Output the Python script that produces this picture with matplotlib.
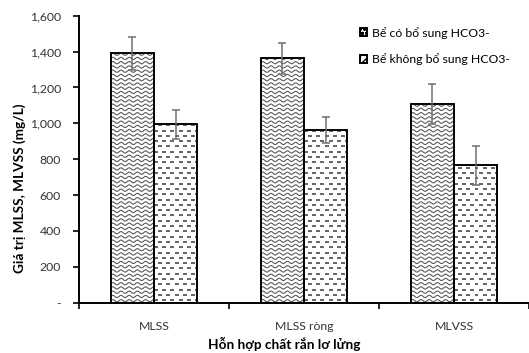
import numpy as np
import matplotlib
matplotlib.use("Agg")
import matplotlib.pyplot as plt
from matplotlib.collections import LineCollection
from matplotlib.patches import Patch
from matplotlib.ticker import FuncFormatter

plt.rcParams['font.family'] = ['Lato', 'DejaVu Sans']

categories = ["MLSS", "MLSS ròng", "MLVSS"]
series_names = ["Bể có bổ sung HCO3-", "Bể không bổ sung HCO3-"]
co_hco3 = [1390, 1362, 1108]
co_hco3_err = [90, 87, 113]
khong_hco3 = [994, 962, 766]
khong_hco3_err = [80, 72, 110]

W, H, DPI = 529, 353, 100
fig = plt.figure(figsize=(W / DPI, H / DPI), dpi=DPI)
ax = fig.add_axes([79 / W, 50.3 / H, 450 / W, 287 / H])

x = np.arange(len(categories))
bw = 0.288
ax.set_xlim(-0.5, 2.5)
ax.set_ylim(0, 1600)

# pixel -> data scale factors
px_x = 3.0 / 450
px_y = 1600 / 287.0


def wave_fill(bar):
    x0, w, h = bar.get_x(), bar.get_width(), bar.get_height()
    xs = np.linspace(x0, x0 + w, 200)
    segs = []
    ypx = 2.0
    while ypx * px_y < h + 5 * px_y:
        y = ypx * px_y + 1.1 * px_y * np.sin(2 * np.pi * (xs - x0) / (8.2 * px_x))
        segs.append(np.column_stack([xs, y]))
        ypx += 4.25
    lc = LineCollection(segs, colors="#5a5a5a", linewidths=0.8, zorder=2)
    ax.add_collection(lc)
    lc.set_clip_path(bar)


def dash_fill(bar):
    x0, w, h = bar.get_x(), bar.get_width(), bar.get_height()
    segs = []
    row = 0
    ypx = 2.5
    while ypx * px_y < h:
        off = 0 if row % 2 == 0 else 4.1
        xp = off - 8.2
        while xp * px_x < w:
            segs.append([(x0 + xp * px_x, ypx * px_y), (x0 + (xp + 4) * px_x, ypx * px_y)])
            xp += 8.2
        ypx += 5.3
        row += 1
    lc = LineCollection(segs, colors="#3a3a3a", linewidths=1.1, zorder=2)
    ax.add_collection(lc)
    lc.set_clip_path(bar)


bars1 = ax.bar(x - bw / 2, co_hco3, bw, color="white", edgecolor="black", linewidth=1.2, zorder=1)
bars2 = ax.bar(x + bw / 2, khong_hco3, bw, color="white", edgecolor="black", linewidth=1.2, zorder=1)
for b in bars1:
    wave_fill(b)
for b in bars2:
    dash_fill(b)
# bar outlines on top of the fill patterns
ax.bar(x - bw / 2, co_hco3, bw, fill=False, edgecolor="black", linewidth=1.2, zorder=3)
ax.bar(x + bw / 2, khong_hco3, bw, fill=False, edgecolor="black", linewidth=1.2, zorder=3)

ax.errorbar(x - bw / 2, co_hco3, yerr=co_hco3_err, fmt="none", ecolor="#707070",
            elinewidth=1.1, capsize=3.2, capthick=1.1, zorder=4)
ax.errorbar(x + bw / 2, khong_hco3, yerr=khong_hco3_err, fmt="none", ecolor="#707070",
            elinewidth=1.1, capsize=3.2, capthick=1.1, zorder=4)

ax.set_yticks(np.arange(0, 1601, 200))
ax.yaxis.set_major_formatter(FuncFormatter(lambda v, p: "-" if v == 0 else f"{int(v):,}"))
ax.set_xticks(x)
ax.set_xticklabels(categories)
ax.set_xticks([-0.5, 0.5, 1.5, 2.5], minor=True)
ax.tick_params(axis="x", which="major", length=0, pad=13, labelsize=8.8, colors="#333333")
ax.tick_params(axis="x", which="minor", length=4, width=1.2, direction="out")
ax.tick_params(axis="y", length=4, width=1.2, direction="out", labelsize=8.8, pad=9, colors="#333333")
ax.tick_params(axis="both", which="both", color="black")

for s in ["top", "right"]:
    ax.spines[s].set_visible(False)
for s in ["left", "bottom"]:
    ax.spines[s].set_linewidth(1.4)

ax.set_ylabel("Giá trị MLSS, MLVSS (mg/L)", fontsize=9.8, fontweight="bold", va="center")
ax.yaxis.set_label_coords(-0.131, 0.40)
ax.set_xlabel("Hỗn hợp chất rắn lơ lửng", fontsize=9.8, fontweight="bold", va="center")
ax.xaxis.set_label_coords(0.457, -0.143)

handles = [Patch(facecolor="white", edgecolor="black", hatch="oooo", linewidth=1.4),
           Patch(facecolor="white", edgecolor="black", hatch="////", linewidth=1.4)]
ax.legend(handles, series_names, loc="upper left", bbox_to_anchor=(0.6, 1.0),
          frameon=False, fontsize=8.8, handlelength=0.6, handleheight=0.6,
          handletextpad=0.4, labelspacing=1.2)

fig.savefig("out.png", dpi=DPI)
